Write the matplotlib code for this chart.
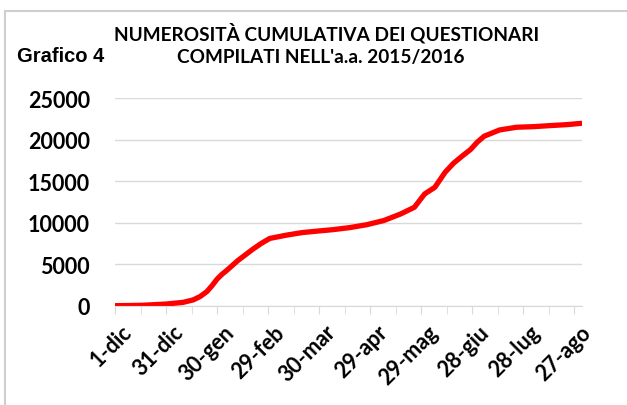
import numpy as np
import matplotlib.pyplot as plt
import matplotlib.transforms as mtransforms
from matplotlib.patches import Rectangle

# giorni dal 1-dic-2015 e valori cumulati
giorni = [0, 16, 30, 40, 46, 50, 54, 57, 60, 63, 66, 72, 81, 86, 91, 101, 110, 120, 128,
          138, 148, 158, 168, 176, 182, 188, 194, 199, 204, 209, 213, 217, 226, 236, 246,
          256, 266, 274]
cumulati = [0, 50, 200, 400, 700, 1100, 1700, 2400, 3200, 3800, 4300, 5400, 6800, 7500,
            8100, 8500, 8800, 9000, 9150, 9400, 9750, 10250, 11050, 11850, 13450, 14250,
            16050, 17150, 18000, 18800, 19700, 20400, 21150, 21480, 21550, 21680, 21800,
            21950]
etichette = ['1-dic', '31-dic', '30-gen', '29-feb', '30-mar', '29-apr',
             '29-mag', '28-giu', '28-lug', '27-ago']
pos_etichette = [0, 30, 60, 90, 120, 150, 180, 210, 240, 270]

fig = plt.figure(figsize=(6.27, 4.06), dpi=100)
ax = fig.add_axes([115 / 627, 1 - 306.7 / 406, (582 - 115) / 627, (306.7 - 99) / 406])

ax.plot(giorni, cumulati, color='#ff0000', lw=3.8, solid_capstyle='round',
        solid_joinstyle='round')
ax.set_xlim(0, 274.5)
ax.set_ylim(0, 25000)
ax.set_yticks(range(0, 25001, 5000))
ax.grid(axis='y', color='#d9d9d9', lw=1)
ax.set_axisbelow(True)
for s in ['top', 'right', 'left']:
    ax.spines[s].set_visible(False)
ax.spines['bottom'].set_color('#d9d9d9')

ax.set_xticks(range(0, 271, 15), minor=True)
ax.set_xticks(pos_etichette)
ax.set_xticklabels(etichette, rotation=45, ha='right', rotation_mode='anchor',
                   fontsize=15.5, fontweight='bold', family='Lato')
ax.tick_params(axis='x', which='both', length=6, color='#d9d9d9', pad=5)
ax.tick_params(axis='y', length=0, pad=18)
sposta = mtransforms.ScaledTranslation(6 / 100, 0, fig.dpi_scale_trans)
for t in ax.get_xticklabels():
    t.set_transform(t.get_transform() + sposta)
for t in ax.get_yticklabels():
    t.set_fontsize(15.5)
    t.set_fontweight('bold')
    t.set_family('Lato')

fig.text(327 / 627, 1 - 33 / 406, 'NUMEROSITÀ CUMULATIVA DEI QUESTIONARI',
         ha='center', va='center', fontsize=13.7, fontweight='bold', family='Lato')
fig.text(321 / 627, 1 - 58 / 406, "COMPILATI NELL'a.a. 2015/2016",
         ha='center', va='center', fontsize=13.7, fontweight='bold', family='Lato')
fig.text(17 / 627, 1 - 56 / 406, 'Grafico 4', ha='left', va='center',
         fontsize=14.5, fontweight='bold', family='Liberation Sans')

fig.patches.append(Rectangle((5 / 627, -0.1), 1.2, 1 - 12 / 406 + 0.1,
                             transform=fig.transFigure, fill=False,
                             edgecolor='#cfcfcf', lw=1.5))

fig.savefig('out.png', dpi=100)
